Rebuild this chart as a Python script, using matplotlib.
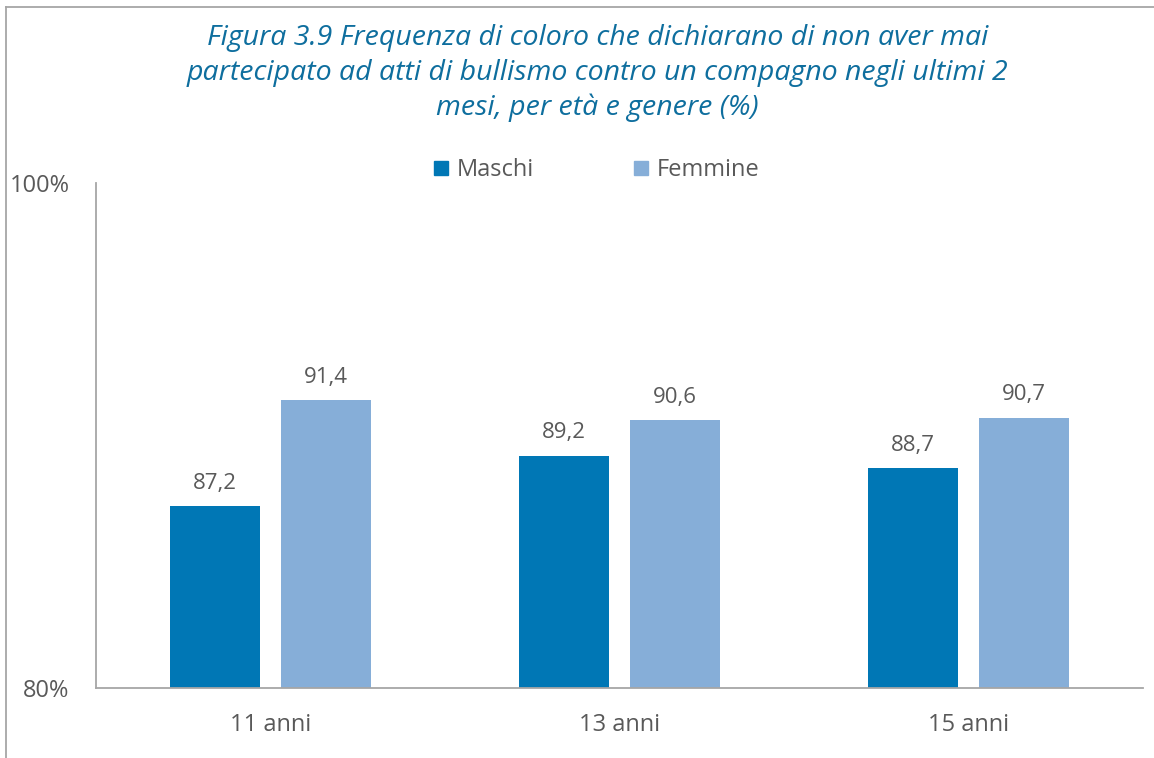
import numpy as np
import matplotlib
matplotlib.use('Agg')
import matplotlib.pyplot as plt
from matplotlib.lines import Line2D

plt.rcParams['font.family'] = ['Open Sans', 'DejaVu Sans']

textcolor = '#595959'
axiscolor = '#A6A6A6'

# Data.
categories = ['11 anni', '13 anni', '15 anni']
maschi     = [87.2, 89.2, 88.7]
femmine    = [91.4, 90.6, 90.7]
series     = ['Maschi', 'Femmine']
yticks     = [80, 100]
ytick_lbls = ['80%', '100%']

col_m = '#0077B5'
col_f = '#86AED8'

fig = plt.figure(figsize=(11.54, 7.58), dpi=100)
ax = fig.add_axes([96/1154, 1 - 688/758, (1143-96)/1154, (688-183)/758])

x = np.arange(len(categories))
w = 0.258
off = 0.158
b1 = ax.bar(x - off, [v - 80 for v in maschi], w, bottom=80, color=col_m, linewidth=0)
b2 = ax.bar(x + off, [v - 80 for v in femmine], w, bottom=80, color=col_f, linewidth=0)

for rects, vals in [(b1, maschi), (b2, femmine)]:
    for r, v in zip(rects, vals):
        ax.annotate('{:.1f}'.format(v).replace('.', ','),
                    (r.get_x() + r.get_width()/2, v),
                    xytext=(0, 9), textcoords='offset points',
                    ha='center', va='bottom', fontsize=16, color=textcolor)

ax.set_xlim(-0.5, 2.5)
ax.set_ylim(80, 100)
ax.set_yticks(yticks)
ax.set_yticklabels(ytick_lbls)
ax.set_xticks(x)
ax.set_xticklabels(categories)
ax.tick_params(axis='y', length=0, pad=19, labelsize=17, labelcolor=textcolor)
ax.tick_params(axis='x', length=0, pad=18, labelsize=17, labelcolor=textcolor)

for s in ['top', 'right']:
    ax.spines[s].set_visible(False)
for s in ['left', 'bottom']:
    ax.spines[s].set_color(axiscolor)
    ax.spines[s].set_linewidth(1.3)

# Legend.
handles = [Line2D([], [], marker='s', linestyle='none', markersize=10.5, color=c)
           for c in [col_m, col_f]]
fig.legend(handles, series, loc='center', bbox_to_anchor=(595/1154, 1 - 170/758),
           ncol=2, frameon=False, fontsize=17, labelcolor=textcolor,
           columnspacing=4.05, handletextpad=0.25, handlelength=0.9)

# Title.
fig.text(0.518, 1 - 73/758,
         'Figura 3.9 Frequenza di coloro che dichiarano di non aver mai\n'
         'partecipato ad atti di bullismo contro un compagno negli ultimi 2\n'
         'mesi, per età e genere (%)',
         ha='center', va='center', fontsize=20.5, style='italic',
         color='#0E6E9E', linespacing=1.3)

# Frame round the chart area.
fig.add_artist(Line2D([6/1154, 6/1154], [0, 1 - 7/758], transform=fig.transFigure,
                      color='#A6A6A6', linewidth=1.3))
fig.add_artist(Line2D([6/1154, 1], [1 - 7/758, 1 - 7/758], transform=fig.transFigure,
                      color='#A6A6A6', linewidth=1.3))

fig.savefig('out.png', dpi=100)
